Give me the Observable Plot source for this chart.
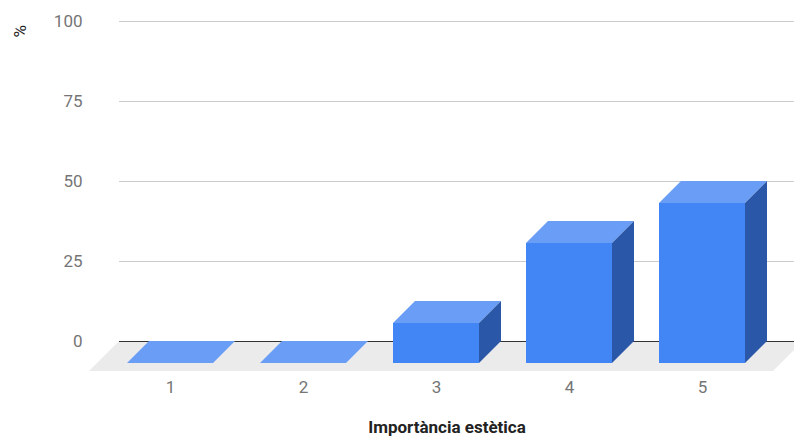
<!DOCTYPE html>
<html>
<head>
<meta charset="utf-8">
<script src="https://cdn.jsdelivr.net/npm/d3@7"></script>
<script src="https://cdn.jsdelivr.net/npm/@observablehq/plot@0.6"></script>
<style>
  html, body { margin: 0; padding: 0; background: #fff; }
  #chart svg { display: block; }
</style>
</head>
<body>
<div id="chart"></div>
<script>
// Rating given to aesthetic importance (1–5) and the share of answers, in %
const ratings = ["1", "2", "3", "4", "5"];
const shares = [0, 0, 12.5, 37.5, 50];
const yTicks = [0, 25, 50, 75, 100];

const rows = ratings.map((r, i) => ({rating: r, share: shares[i]}));

// Pseudo-3D look: front plane sits `depth` px left of and below the axis plane
const depth = 22;
const floorDepth = 30;
const colors = {front: "#4285f4", top: "#6a9df6", side: "#2b57a8", floor: "#ebebeb"};

// Gray floor under the columns
function floor(index, scales, values, dims) {
  const y0 = scales.y(0);
  const left = dims.marginLeft, right = dims.width - dims.marginRight + 9;
  const pts = [[left, y0], [right, y0], [right - floorDepth, y0 + floorDepth], [left - floorDepth, y0 + floorDepth]];
  const g = d3.create("svg:g");
  g.append("polygon").attr("points", pts.join(" ")).attr("fill", colors.floor);
  return g.node();
}

// Top and side faces of each column
function faces(index, scales) {
  const {x, y} = scales;
  const bw = x.bandwidth();
  const g = d3.create("svg:g");
  rows.forEach((d) => {
    const x0 = x(d.rating) - depth, x1 = x0 + bw;
    const yt = y(d.share) + depth, yb = y(0) + depth;
    g.append("polygon")
      .attr("points", [[x0, yt], [x1, yt], [x1 + depth, yt - depth], [x0 + depth, yt - depth]].join(" "))
      .attr("fill", colors.top);
    if (yb > yt) {
      g.append("polygon")
        .attr("points", [[x1, yt], [x1 + depth, yt - depth], [x1 + depth, yb - depth], [x1, yb]].join(" "))
        .attr("fill", colors.side);
    }
  });
  return g.node();
}

const chart = Plot.plot({
  width: 794,
  height: 437,
  marginLeft: 119,
  marginRight: 0,
  marginTop: 21,
  marginBottom: 96,
  style: {fontFamily: "Roboto, sans-serif", fontSize: "17px", color: "#757575", background: "#fff"},
  x: {type: "band", domain: ratings, paddingInner: 0.35, paddingOuter: 0.175, insetLeft: 6, insetRight: 3},
  y: {domain: [0, 100]},
  marks: [
    floor,
    Plot.gridY([25, 50, 75, 100], {stroke: "#cccccc", strokeOpacity: 1}),
    Plot.ruleY([0], {stroke: "#333333"}),
    Plot.barY(rows, {x: "rating", y: "share", fill: colors.front, dx: -depth, dy: depth}),
    faces,
    Plot.axisY(yTicks, {tickSize: 0, tickPadding: 37, label: null, fill: "#757575"}),
    Plot.axisX({tickSize: 0, tickPadding: 39, dx: -depth, label: null, fill: "#757575"}),
    Plot.text(["%"], {text: (d) => d, frameAnchor: "top-left", dx: -106, dy: 16, rotate: -90, fontSize: 17, fill: "#222"}),
    Plot.text(["Importància estètica"], {text: (d) => d, frameAnchor: "bottom", dx: -10, dy: 91, fontSize: 17, fontWeight: "bold", fill: "#222"})
  ]
});

document.getElementById("chart").append(chart);
</script>
</body>
</html>
